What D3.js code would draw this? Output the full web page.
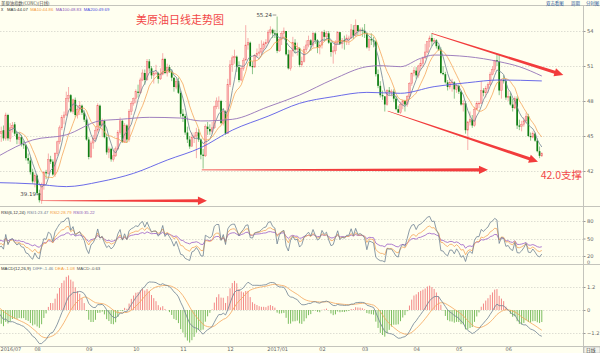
<!DOCTYPE html>
<html><head><meta charset="utf-8">
<script src="https://cdn.jsdelivr.net/npm/d3@7/dist/d3.min.js"></script>
<style>html,body{margin:0;padding:0;background:#fffff0;overflow:hidden}svg{display:block}</style>
</head><body>
<svg id="chart" width="600" height="353"></svg>
<script>
// ---------- DATA ----------
const monthLabels = ["2016/07","08","09","10","11","12","2017/01","02","03","04","05","06"];
const monthStart  = [0,17,40,61,82,103,124,144,163,186,205,227];
const priceTicks = [42,45,48,51,54];
const rsiTicks = [20,50,80];
const macdTicks = [-1.2,0,1.2];

const opens = [
47.9,45.2,45.5,44.8,46.8,44.8,45.7,46.0,45.2,44.7,44.9,44.3,44.2,43.1,42.9,41.9,41.1,
41.6,40.1,39.5,40.8,41.9,41.8,43.0,42.8,41.7,43.5,44.5,45.7,46.6,46.8,48.2,48.5,47.1,48.1,46.8,47.3,47.6,47.0,46.4,
44.7,43.2,44.4,44.8,45.5,47.6,45.9,46.3,44.9,43.6,43.9,43.0,43.3,43.9,45.3,46.3,44.5,45.9,44.7,47.1,47.8,
48.2,48.8,48.7,49.8,50.4,49.8,51.4,50.8,50.2,50.4,50.4,49.9,50.3,51.6,50.4,50.9,50.5,50.0,49.2,49.7,48.7,
46.9,46.7,45.3,44.7,44.1,44.9,45.0,45.3,44.7,43.4,43.3,45.8,45.6,45.4,45.7,47.5,48.0,48.0,46.1,47.1,45.2,
49.4,51.1,51.7,51.8,50.9,49.8,50.8,51.5,52.8,53.0,51.0,50.9,51.9,52.1,52.2,52.5,52.9,53.0,53.9,54.1,53.8,
53.8,52.3,53.3,53.8,54.0,52.0,50.8,52.3,53.0,52.4,52.5,51.1,51.4,52.4,52.8,53.2,52.8,53.8,53.2,52.6,
52.8,53.9,53.5,53.8,53.0,52.2,52.3,53.0,53.9,52.9,53.2,53.1,53.4,53.4,54.1,53.6,54.5,54.0,54.1,
54.0,53.8,52.6,53.3,53.2,53.1,50.3,49.3,48.5,48.4,47.7,48.9,48.8,48.8,48.2,47.3,47.0,47.7,48.0,47.7,48.4,49.5,50.4,
50.6,50.2,51.0,51.2,51.7,52.2,53.1,53.4,53.1,53.2,52.7,52.4,50.4,50.3,49.6,49.2,49.6,49.6,49.0,
49.3,48.8,47.7,47.8,45.5,46.2,46.4,45.9,47.3,47.8,47.8,48.9,48.7,49.1,49.4,50.3,50.7,51.5,51.4,48.9,49.8,49.7,
48.3,48.4,47.7,47.4,48.2,45.9,45.8,46.0,46.3,46.7,45.0,44.9,45.2,44.6,43.7,43.3];
const highs = [
48.1,45.8,45.9,47.0,46.9,46.1,46.2,46.2,45.4,45.3,45.1,44.6,44.3,43.5,43.2,42.2,41.8,
41.7,40.4,41.0,42.0,42.1,43.5,43.3,43.0,43.6,44.6,45.9,46.8,47.1,48.8,49.2,48.6,48.2,48.3,47.6,48.0,47.7,47.2,46.5,
44.9,44.6,45.1,45.8,47.8,47.7,46.5,46.4,45.2,44.1,44.0,43.8,44.1,45.5,46.6,46.4,46.1,46.0,47.3,48.0,48.3,
49.0,49.4,50.0,50.7,50.7,51.6,51.6,51.0,50.6,51.1,50.5,50.8,52.1,51.7,51.2,51.1,50.7,50.0,49.9,50.0,48.9,
47.3,46.9,45.8,45.0,45.3,45.3,45.7,45.6,44.8,43.9,46.0,46.2,46.0,46.2,47.6,48.3,48.4,48.1,47.4,47.2,49.9,
51.5,51.9,52.4,51.9,51.4,51.0,51.7,54.5,53.4,53.1,51.4,52.0,52.5,52.9,53.2,53.1,53.3,54.1,54.4,54.2,54.1,
55.24,53.4,54.0,54.3,54.0,52.4,52.3,53.5,53.3,53.0,52.6,51.8,52.7,53.2,53.6,53.3,53.9,53.9,53.3,53.0,
54.0,54.1,54.0,54.0,53.1,52.7,53.2,54.0,53.9,53.4,53.6,53.7,53.6,54.6,54.5,55.0,54.5,54.3,54.3,
54.6,53.9,53.5,53.8,53.5,53.2,50.7,49.7,48.9,48.4,49.0,49.2,49.0,49.0,48.4,47.6,47.9,48.1,48.1,48.5,49.6,50.4,50.9,
50.9,51.1,51.6,51.8,52.9,53.1,53.6,53.8,53.4,53.3,52.8,52.6,51.0,50.5,49.8,49.9,49.9,49.7,49.5,
49.4,48.9,48.1,48.0,46.3,47.1,46.8,47.5,48.0,48.0,49.7,49.1,49.3,49.6,50.5,51.0,51.5,52.0,52.0,49.9,50.2,49.9,
48.9,48.7,48.2,48.4,48.4,46.4,46.3,46.6,47.0,46.9,45.3,45.4,45.3,44.8,44.1,43.6];
const lows = [
44.9,44.5,44.6,44.6,44.6,44.5,45.3,45.0,44.3,44.3,44.1,43.9,42.9,42.6,41.7,40.9,40.6,
39.9,39.3,39.19,40.4,41.3,41.7,42.6,41.6,41.5,43.3,44.3,45.5,46.0,46.7,47.9,47.0,46.9,46.6,46.5,46.8,46.8,46.2,44.6,
43.0,43.1,43.9,44.6,45.3,45.7,44.9,44.8,43.4,43.1,42.8,42.8,43.2,43.8,45.1,44.4,44.4,44.4,44.5,46.8,47.6,
47.8,48.3,48.6,49.7,49.4,49.8,50.5,49.9,49.5,50.2,49.5,49.8,50.2,50.3,50.1,50.4,49.7,48.8,49.0,48.6,46.6,
46.2,45.1,44.4,43.9,44.1,44.4,43.1,44.5,43.0,42.2,43.2,45.1,45.1,45.2,45.6,47.3,47.3,46.0,45.9,45.1,45.2,
49.2,50.5,51.2,50.5,49.6,49.7,50.6,51.5,52.4,50.9,50.3,50.9,51.7,51.8,51.9,52.3,52.6,52.9,53.7,53.4,53.4,
52.1,52.2,52.8,53.3,51.9,50.7,50.6,51.8,52.1,51.9,50.9,50.9,51.3,52.2,52.6,52.3,52.6,52.9,52.1,52.0,
52.5,53.1,53.2,52.9,51.8,51.2,52.0,52.8,52.8,52.5,52.4,52.8,52.8,53.3,53.3,53.5,53.6,53.6,53.5,
53.4,52.5,52.3,52.8,52.6,50.1,49.1,48.3,48.1,47.1,47.6,48.5,48.4,47.9,47.2,47.0,46.9,47.3,47.1,47.5,48.2,49.3,50.1,
49.9,50.0,50.7,50.9,51.6,52.1,52.6,52.7,52.9,52.5,52.3,50.3,50.2,49.5,48.9,49.0,48.8,48.2,48.7,
48.6,47.6,47.1,45.2,43.8,45.9,45.7,45.8,47.2,47.4,47.8,48.4,48.3,48.7,49.3,50.2,50.5,51.0,48.5,48.2,49.5,48.1,
48.0,47.6,47.1,47.3,45.6,45.5,45.4,45.8,46.1,44.9,44.6,44.8,44.5,43.6,43.1,43.2];
const closes = [
45.2,45.4,44.8,46.8,44.8,45.7,45.9,45.2,44.7,44.9,44.3,44.2,43.1,42.9,41.9,41.1,41.6,
40.1,39.5,40.8,41.9,41.8,43.0,42.8,41.7,43.5,44.5,45.7,46.6,46.8,48.2,48.5,47.1,48.1,46.8,47.3,47.6,47.0,46.4,44.7,
43.2,44.4,44.8,45.5,47.6,45.9,46.3,44.9,43.6,43.9,43.0,43.3,43.9,45.3,46.3,44.5,45.9,44.7,47.1,47.8,48.2,
48.8,48.7,49.8,50.4,49.8,51.4,50.8,50.2,50.4,50.4,49.9,50.3,51.6,50.4,50.9,50.5,50.0,49.2,49.7,48.7,46.9,
46.7,45.3,44.7,44.1,44.9,45.0,45.3,44.7,43.4,43.3,45.8,45.6,45.4,45.7,47.5,48.0,48.0,46.1,47.1,45.2,49.4,
51.1,51.7,51.8,50.9,49.8,50.8,51.5,52.8,53.0,51.0,50.9,51.9,52.1,52.2,52.5,52.9,53.0,53.9,54.1,53.8,53.7,
52.3,53.3,53.8,54.0,52.0,50.8,52.3,53.0,52.4,52.5,51.1,51.4,52.4,52.8,53.2,52.8,53.8,53.2,52.6,52.8,
53.9,53.5,53.8,53.0,52.2,52.3,53.0,53.9,52.9,53.2,53.1,53.4,53.4,54.1,53.6,54.5,54.0,54.1,54.0,
53.8,52.6,53.3,53.2,53.1,50.3,49.3,48.5,48.4,47.7,48.9,48.8,48.8,48.2,47.3,47.0,47.7,48.0,47.7,48.4,49.5,50.4,50.6,
50.2,51.0,51.2,51.7,52.2,53.1,53.4,53.1,53.2,52.7,52.4,50.4,50.3,49.6,49.2,49.6,49.6,49.0,49.3,
48.8,47.7,47.8,45.5,46.2,46.4,45.9,47.3,47.8,47.8,48.9,48.7,49.1,49.4,50.3,50.7,51.5,51.4,48.9,49.8,49.7,48.3,
48.4,47.7,47.4,48.2,45.9,45.8,46.0,46.3,46.7,45.0,44.9,45.2,44.6,43.7,43.3,43.5];

// long moving averages (candle index, value)
const ma100Idx = [0,15,30,45,54,67,81,90,104,120,134,149,164,170,179,188,194,209,223,232,242];
const ma100Val = [43.3,44.66,45.1,46.3,46.43,46.6,46.54,46.29,46.43,47.51,48.51,49.86,50.94,51.03,50.94,51.66,51.94,51.8,51.37,50.94,50.14];
const ma200Idx = [0,15,30,45,60,75,90,104,120,134,149,164,179,194,209,223,242];
const ma200Val = [41.0,40.9,40.66,41.08,41.8,42.94,44.0,45.5,46.7,47.8,48.37,48.74,48.66,49.23,49.57,49.8,49.72];

// indicator states at the left edge
const rsiSeed = [34,40,46];
const macdSeed = [47.55,47.72,0.12]; // EMA12, EMA26, DEA

const maLegend   = ["MA5:44.07","MA10:44.86","MA100:48.83","MA200:49.69"];
const rsiLegend  = ["RSI(6,12,24)","RSI1:23.47","RSI2:28.79","RSI3:35.22"];
const macdLegend = ["MACD(12,26,9)","DIFF:-1.46","DEA:-1.08","MACD:-0.63"];

const highMark = {i:124, v:55.24};
const lowMark  = {i:19,  v:39.19};
// annotation arrows in data space [index, price]
const arrows = [
  {from:[19,39.45],   to:[92.7,39.45]},
  {from:[90.4,42.1],  to:[218,42.1]},
  {from:[173.3,47.14],to:[240.3,42.8]},
  {from:[192.9,53.8], to:[251.6,50.23]}
];
const supportText = {i:241.5, v:41.3, t:"42.0支撑"};

// ---------- LAYOUT ----------
const W=600,H=353, AX=583;
const svg=d3.select('#chart');
const n=closes.length;
const x=d3.scaleLinear().domain([0,242]).range([-1,541.8]);
const yP=d3.scaleLinear().domain([42,54]).range([171,31]);
const yR=d3.scaleLinear().domain([20,80]).range([256,221]);
const yM=d3.scaleLinear().domain([-1.2,1.2]).range([333,287]);

svg.append('rect').attr('width',W).attr('height',H).attr('fill','#fffff0');
const defs=svg.append('defs');
[['cMain',5,206],['cRsi',206,264],['cMacd',264,346]].forEach(([id,a,b])=>{
  defs.append('clipPath').attr('id',id).append('rect').attr('x',0).attr('y',a).attr('width',AX).attr('height',b-a);
});

const fontS='"DejaVu Sans",Arial,sans-serif';
const fontL='"Liberation Sans",Arial,sans-serif';
// grid
function grid(ticks,scale){
  svg.append('g').selectAll('line').data(ticks).join('line')
    .attr('x1',0).attr('x2',AX).attr('y1',d=>Math.round(scale(d))+0.5).attr('y2',d=>Math.round(scale(d))+0.5)
    .attr('stroke','#d6d6cc').attr('stroke-width',0.8).attr('stroke-dasharray','1.5,1.5');
}
grid(priceTicks,yP); grid(rsiTicks,yR); grid(macdTicks,yM);

// frame
const frame=svg.append('g').attr('stroke','#c4c4bc').attr('stroke-width',1);
[5.5,206.5,264.5,346.5].forEach(v=>frame.append('line').attr('x1',0).attr('x2',W).attr('y1',v).attr('y2',v));
frame.append('line').attr('x1',AX+0.5).attr('x2',AX+0.5).attr('y1',5).attr('y2',H);

// right axes
function rightAxis(ticks,scale,fmt){
  const g=svg.append('g').attr('transform',`translate(${AX+0.5},0)`)
    .call(d3.axisRight(scale).tickValues(ticks).tickSize(2).tickFormat(fmt));
  g.select('.domain').remove();
  g.selectAll('line').attr('stroke','#999');
  g.selectAll('text').attr('font-size',5.2).attr('fill','#666').attr('font-family',fontS).attr('x',3.5);
}
rightAxis(priceTicks,yP,d3.format('d'));
rightAxis(rsiTicks,yR,d3.format('d'));
rightAxis(macdTicks,yM,d=>d===0?'0':d3.format('.1f')(d));
svg.append('text').attr('x',AX+4).attr('y',263.5).attr('font-size',4.8).attr('fill','#666').attr('font-family',fontS).text('0');

// date axis
const dg=svg.append('g').attr('transform','translate(0,346.5)')
  .call(d3.axisBottom(x).tickValues(monthStart).tickSize(0).tickFormat((d,i)=>monthLabels[i]));
dg.select('.domain').remove();
dg.selectAll('text').attr('font-size',5).attr('fill','#666').attr('font-family',fontS).attr('dy','0.65em').attr('y',1.5);
dg.selectAll('text').filter((d,i)=>i===0).attr('text-anchor','start').attr('x',d=>-x(d));

// ---------- MAIN PANEL ----------
const main=svg.append('g').attr('clip-path','url(#cMain)');
const idx=d3.range(n);
const UP='#f26a6a', DN='#0e7d12';
main.append('g').selectAll('line').data(idx).join('line')
  .attr('x1',i=>x(i)).attr('x2',i=>x(i)).attr('y1',i=>yP(highs[i])).attr('y2',i=>yP(lows[i]))
  .attr('stroke',i=>closes[i]>=opens[i]?'#f59a9a':'#72b872').attr('stroke-width',0.8);
main.append('g').selectAll('rect').data(idx).join('rect')
  .attr('x',i=>x(i)-0.85).attr('width',1.7)
  .attr('y',i=>yP(Math.max(opens[i],closes[i])))
  .attr('height',i=>Math.max(0.6,Math.abs(yP(opens[i])-yP(closes[i]))))
  .attr('fill',i=>closes[i]>=opens[i]?'#f8b8b8':DN)
  .attr('stroke',i=>closes[i]>=opens[i]?UP:'none').attr('stroke-width',0.4);

function smaCalc(arr,p){return arr.map((v,i)=>i<p-1?null:d3.mean(arr.slice(i-p+1,i+1)));}
const ma5=smaCalc(closes,5), ma10=smaCalc(closes,10);
const lineIdx=(sc,vals)=>d3.line().defined(i=>vals[i]!=null).x(i=>x(i)).y(i=>sc(vals[i]));
main.append('path').attr('d',lineIdx(yP,ma5)(idx)).attr('fill','none').attr('stroke','#6f8193').attr('stroke-width',0.8);
main.append('path').attr('d',lineIdx(yP,ma10)(idx)).attr('fill','none').attr('stroke','#f5a65b').attr('stroke-width',0.8);
const lp=d3.line().curve(d3.curveMonotoneX);
main.append('path').attr('d',lp(ma100Idx.map((d,k)=>[x(d),yP(ma100Val[k])]))).attr('fill','none').attr('stroke','#9472b8').attr('stroke-width',0.9);
main.append('path').attr('d',lp(ma200Idx.map((d,k)=>[x(d),yP(ma200Val[k])]))).attr('fill','none').attr('stroke','#5a5ae6').attr('stroke-width',0.9);

// high / low marks
const hx=x(highMark.i), hy=yP(highMark.v);
svg.append('line').attr('x1',hx-4.5).attr('x2',hx-0.8).attr('y1',hy-1.5).attr('y2',hy-1.5).attr('stroke','#555').attr('stroke-width',0.6);
svg.append('text').attr('x',hx-5).attr('y',hy).attr('text-anchor','end').attr('font-size',5.5).attr('fill','#444').attr('font-family',fontS).text(d3.format('.2f')(highMark.v));
const lx=x(lowMark.i), ly=yP(lowMark.v);
svg.append('line').attr('x1',lx-5).attr('x2',lx-1).attr('y1',ly-9.5).attr('y2',ly-9.5).attr('stroke','#555').attr('stroke-width',0.6);
svg.append('text').attr('x',lx-5.5).attr('y',ly-8).attr('text-anchor','end').attr('font-size',5.5).attr('fill','#444').attr('font-family',fontS).text(d3.format('.2f')(lowMark.v));

// arrows
const RED='#f23c3c';
function arrowPath(x1,y1,x2,y2){
  const dx=x2-x1, dy=y2-y1, L=Math.hypot(dx,dy), ux=dx/L, uy=dy/L, nx=-uy, ny=ux;
  const hl=9, hw=4.2, w0=0.35, w1=1.6;
  const bx=x2-ux*hl, by=y2-uy*hl;
  const p=[[x1+nx*w0,y1+ny*w0],[bx+nx*w1,by+ny*w1],[bx+nx*hw,by+ny*hw],[x2,y2],[bx-nx*hw,by-ny*hw],[bx-nx*w1,by-ny*w1],[x1-nx*w0,y1-ny*w0]];
  return 'M'+p.map(q=>q.join(',')).join('L')+'Z';
}
svg.append('g').selectAll('path').data(arrows).join('path')
  .attr('d',a=>arrowPath(x(a.from[0]),yP(a.from[1]),x(a.to[0]),yP(a.to[1])))
  .attr('fill',RED);

// texts
const cjk='"Noto Sans CJK SC","Noto Sans",sans-serif';
svg.append('text').attr('x',136).attr('y',24).attr('font-size',11).attr('fill','#f24848').attr('font-family',cjk).text('美原油日线走势图');
svg.append('text').attr('x',x(supportText.i)).attr('y',yP(supportText.v)).attr('font-size',10.5).attr('fill','#f24848').attr('font-family',cjk).text(supportText.t);

// header (top strip)
svg.append('text').attr('x',1).attr('y',4.6).attr('font-size',4.4).attr('fill','#444').attr('font-family',cjk).text('美原油指数(CONC)(日线)');
[['双击看图',546],['周期',571],['分时图',586]].forEach(([t,px])=>svg.append('text').attr('x',px).attr('y',4.6).attr('font-size',4.4).attr('fill','#2e5a9c').attr('font-family',cjk).text(t));

function legend(items,colors,x0,yb,gap){
  let cx=x0;
  items.forEach((t,k)=>{
    const el=svg.append('text').attr('x',cx).attr('y',yb).attr('font-size',4.3).attr('fill',colors[k]).attr('font-family',fontL).text(t);
    cx+=el.node().getComputedTextLength()+gap;
  });
}
svg.append('text').attr('x',1).attr('y',11).attr('font-size',4.5).attr('fill','#333').attr('font-family',fontL).text('x');
legend(maLegend,['#333','#f39a3c','#8a56b8','#4a4ae0'],7,11,2.4);

// ---------- RSI ----------
function rsiCalc(N,seed){let up=seed/100*0.8,ab=0.8;const out=[seed];
  for(let i=1;i<n;i++){const d=closes[i]-closes[i-1];up=(Math.max(d,0)+(N-1)*up)/N;ab=(Math.abs(d)+(N-1)*ab)/N;out.push(ab===0?50:up/ab*100);}return out;}
const rsi1=rsiCalc(6,rsiSeed[0]), rsi2=rsiCalc(12,rsiSeed[1]), rsi3=rsiCalc(24,rsiSeed[2]);
const rg=svg.append('g').attr('clip-path','url(#cRsi)');
[[rsi3,'#9a5cc6'],[rsi2,'#f5a65b'],[rsi1,'#6f8193']].forEach(([v,c])=>
  rg.append('path').attr('d',lineIdx(yR,v)(idx)).attr('fill','none').attr('stroke',c).attr('stroke-width',0.8));
legend(rsiLegend,['#333','#6f8193','#f39a3c','#8a56b8'],1,213.5,1.6);

// ---------- MACD ----------
let e12=macdSeed[0],e26=macdSeed[1],dea=macdSeed[2];
const diff=[e12-e26], deaA=[dea];
for(let i=1;i<n;i++){e12=(2*closes[i]+11*e12)/13;e26=(2*closes[i]+25*e26)/27;const d=e12-e26;dea=(2*d+8*dea)/10;diff.push(d);deaA.push(dea);}
const macd=diff.map((d,i)=>2*(d-deaA[i]));
const mg=svg.append('g').attr('clip-path','url(#cMacd)');
mg.append('g').selectAll('line').data(idx).join('line')
  .attr('x1',i=>x(i)).attr('x2',i=>x(i)).attr('y1',yM(0)).attr('y2',i=>yM(macd[i]))
  .attr('stroke',i=>macd[i]>=0?'#f27a7a':'#6cb64e').attr('stroke-width',0.9);
mg.append('path').attr('d',lineIdx(yM,deaA)(idx)).attr('fill','none').attr('stroke','#f5a65b').attr('stroke-width',0.8);
mg.append('path').attr('d',lineIdx(yM,diff)(idx)).attr('fill','none').attr('stroke','#6f8193').attr('stroke-width',0.8);
legend(macdLegend,['#333','#6f8193','#f39a3c','#555'],1,270,1.8);

// bottom-right period box
svg.append('rect').attr('x',AX+1).attr('y',347).attr('width',16).attr('height',6).attr('fill','#f4f4ec').attr('stroke','#aaa').attr('stroke-width',0.5);
svg.append('text').attr('x',AX+3).attr('y',352.3).attr('font-size',4.8).attr('fill','#444').attr('font-family',cjk).text('日线');
</script>
</body></html>
